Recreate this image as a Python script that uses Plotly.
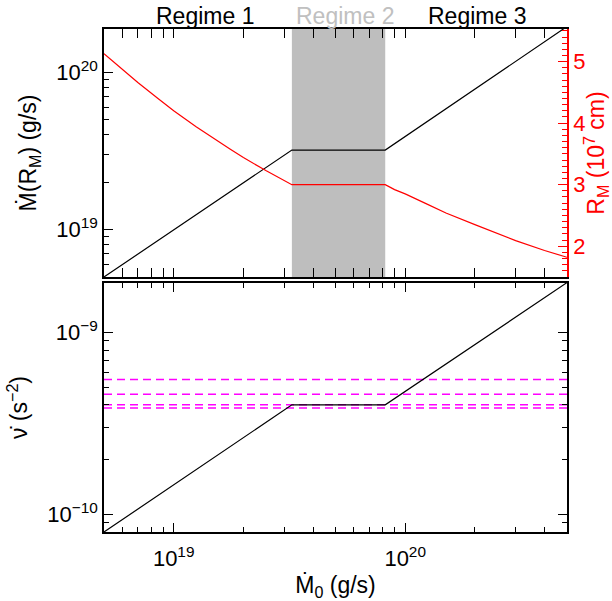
import numpy as np
import plotly.graph_objects as go

# ---- data ----
mdot0 = [5e18, 3.24e19, 8.2e19, 5e20]              # M0dot (g/s) break points
mdot_rm = [5e18, 3.2e19, 3.2e19, 1.95e20]          # Mdot(R_M) (g/s)
nudot = [8.0e-11, 4.0e-10, 4.0e-10, 1.88e-9]       # nu-dot (s^-2)

rm_x = [5e18, 6e18, 7e18, 8.5e18, 1e19, 1.25e19, 1.5e19, 1.75e19, 2e19, 2.5e19, 3.24e19,
        8.2e19, 9e19, 1e20, 1.25e20, 1.5e20, 2e20, 2.5e20, 3e20, 4e20, 5e20]
rm_y = [5.13, 4.88, 4.66, 4.41, 4.20, 3.94, 3.74, 3.58, 3.44, 3.23, 3.0,
        3.0, 2.92, 2.85, 2.68, 2.54, 2.35, 2.21, 2.09, 1.93, 1.82]   # R_M (1e7 cm)

regime2_band = [3.24e19, 8.2e19]
nudot_levels = [5.52e-10, 4.58e-10, 4.01e-10, 3.84e-10]

regime_labels = ["Regime 1", "Regime 2", "Regime 3"]
regime_label_x = [1.36e19, 5.5e19, 2.04e20]
regime_label_colors = ["black", "#c0c0c0", "black"]

x_range = [5e18, 5e20]
y_top_range = [5e18, 1.88e20]
y_rm_range = [1.5, 5.53]
y_bot_range = [8.0e-11, 1.87e-9]

x_ticks = [1e19, 1e20]
x_ticktext = ["10<sup>19</sup>", "10<sup>20</sup>"]
y_top_ticks = [1e19, 1e20]
y_top_ticktext = ["10<sup>19</sup>", "10<sup>20</sup>"]
y_bot_ticks = [1e-10, 1e-9]
y_bot_ticktext = ["10<sup>−10</sup>", "10<sup>−9</sup>"]
y_rm_ticks = [2, 3, 4, 5]

FONT = "Arial, Liberation Sans, Helvetica, sans-serif"

def minor_vals(lo_exp, hi_exp):
    v = []
    for e in range(lo_exp, hi_exp + 1):
        for m in range(2, 10):
            v.append(m * 10.0 ** e)
    return v

fig = go.Figure()

# gray band (regime 2)
fig.add_trace(go.Scatter(
    x=[regime2_band[0], regime2_band[1], regime2_band[1], regime2_band[0], regime2_band[0]],
    y=[1e17, 1e17, 1e22, 1e22, 1e17],
    fill="toself", fillcolor="#bebebe", line=dict(width=0),
    mode="lines", xaxis="x", yaxis="y", showlegend=False, hoverinfo="skip"))

fig.add_trace(go.Scatter(x=mdot0, y=mdot_rm, mode="lines",
                         line=dict(color="black", width=1.2),
                         xaxis="x", yaxis="y", showlegend=False))
fig.add_trace(go.Scatter(x=rm_x, y=rm_y, mode="lines",
                         line=dict(color="red", width=1.2),
                         xaxis="x", yaxis="y2", showlegend=False))

for lv in nudot_levels:
    fig.add_trace(go.Scatter(x=x_range, y=[lv, lv], mode="lines",
                             line=dict(color="#ff00ff", width=1.5, dash="8px,5px"),
                             xaxis="x2", yaxis="y3", showlegend=False))
fig.add_trace(go.Scatter(x=mdot0, y=nudot, mode="lines",
                         line=dict(color="black", width=1.2),
                         xaxis="x2", yaxis="y3", showlegend=False))

tickfont = dict(family=FONT, size=22, color="black")
titlefont = dict(family=FONT, size=23, color="black")

common_x = dict(type="log", range=[np.log10(x_range[0]), np.log10(x_range[1])],
                tickvals=x_ticks, ticktext=x_ticktext, ticks="inside", ticklen=9,
                tickwidth=1.2, tickcolor="black", showline=True, linecolor="black",
                linewidth=1.5, mirror="allticks", showgrid=False, zeroline=False,
                tickfont=tickfont, automargin=False, ticklabelstandoff=6,
                minor=dict(tickvals=minor_vals(18, 20), ticks="inside", ticklen=5,
                           tickwidth=1.0, tickcolor="black", showgrid=False))

fig.update_layout(
    width=612, height=601,
    margin=dict(l=104, r=45, t=29, b=69),
    paper_bgcolor="white", plot_bgcolor="white",
    font=dict(family=FONT),
    xaxis=dict(common_x, anchor="y", domain=[0, 1], showticklabels=False),
    yaxis=dict(type="log", domain=[0.507, 1], anchor="x",
               range=[np.log10(y_top_range[0]), np.log10(y_top_range[1])],
               tickvals=y_top_ticks, ticktext=y_top_ticktext,
               ticks="inside", ticklen=9, tickwidth=1.2,
               tickcolor="black", showline=True, linecolor="black", linewidth=1.5,
               mirror=False, showgrid=False, zeroline=False, automargin=False,
               tickfont=tickfont,
               title=dict(text="Ṁ(R<sub>M</sub>) (g/s)", font=titlefont, standoff=13),
               minor=dict(tickvals=minor_vals(18, 20), ticks="inside", ticklen=5,
                          tickwidth=1.0, tickcolor="black", showgrid=False)),
    yaxis2=dict(overlaying="y", side="right", anchor="x", range=y_rm_range,
                tickvals=y_rm_ticks, ticks="inside", ticklen=9, tickwidth=1.2,
                tickcolor="red", showline=True, linecolor="red", linewidth=1.5,
                showgrid=False, zeroline=False, automargin=False,
                tickfont=dict(family=FONT, size=22, color="red"),
                title=dict(text="R<sub>M</sub> (10<sup>7</sup> cm)",
                           font=dict(family=FONT, size=23, color="red"), standoff=5),
                minor=dict(dtick=0.1, ticks="inside", ticklen=5, tickwidth=1.0,
                           tickcolor="red", showgrid=False)),
    xaxis2=dict(common_x, anchor="y3", domain=[0, 1], matches="x",
                title=dict(text="Ṁ<sub>0</sub> (g/s)", font=titlefont, standoff=8)),
    yaxis3=dict(type="log", domain=[0, 0.495], anchor="x2",
                range=[np.log10(y_bot_range[0]), np.log10(y_bot_range[1])],
                tickvals=y_bot_ticks, ticktext=y_bot_ticktext,
                ticks="inside", ticklen=9, tickwidth=1.2,
                tickcolor="black", showline=True, linecolor="black", linewidth=1.5,
                mirror="allticks", showgrid=False, zeroline=False, automargin=False,
                tickfont=tickfont,
                title=dict(text="ν̇ (s<sup>−2</sup>)", font=titlefont, standoff=13),
                minor=dict(tickvals=minor_vals(-11, -9), ticks="inside", ticklen=5,
                           tickwidth=1.0, tickcolor="black", showgrid=False)),
)

for lab, lx, lc in zip(regime_labels, regime_label_x, regime_label_colors):
    fig.add_annotation(text=lab, x=np.log10(lx), xref="x", y=1.0, yref="paper",
                       yanchor="bottom", showarrow=False, yshift=-2,
                       font=dict(family=FONT, size=23, color=lc))

fig.write_html("out.html", config={"displayModeBar": False},
               post_script="document.body.style.margin='0px';")
